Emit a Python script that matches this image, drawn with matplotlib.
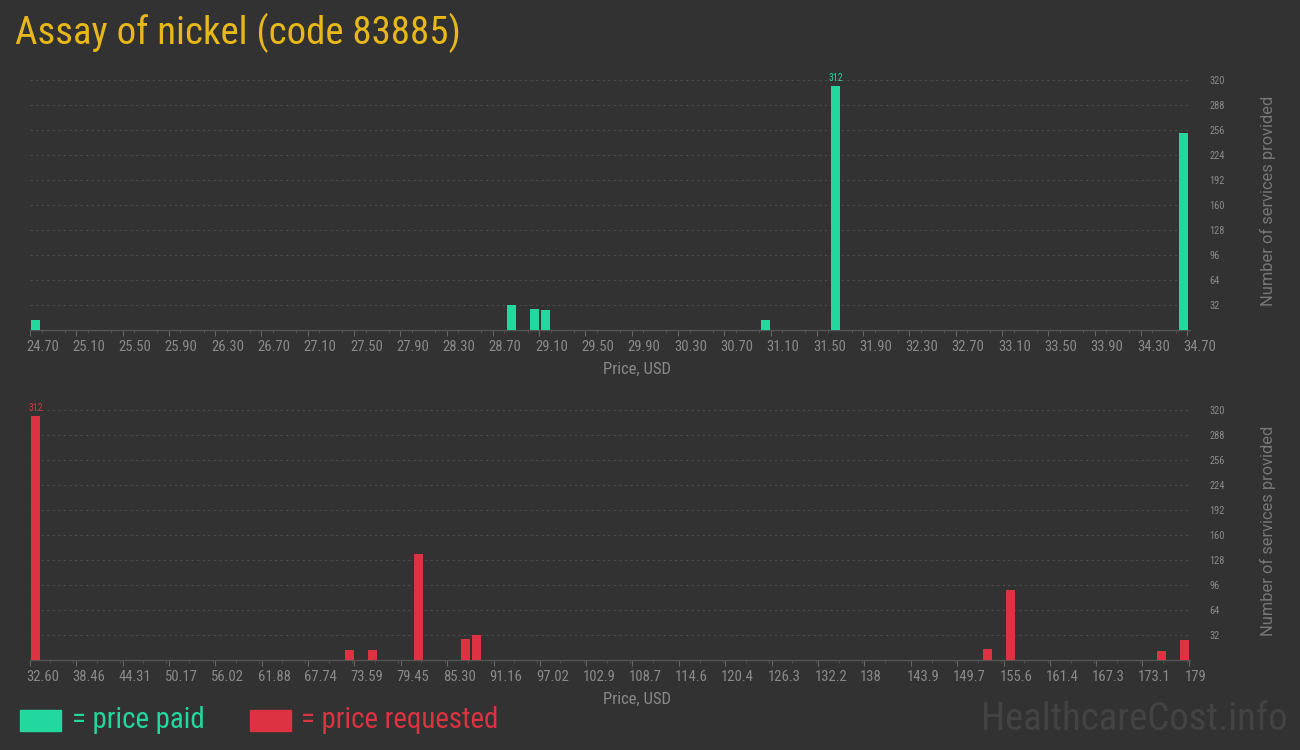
import matplotlib.pyplot as plt
from matplotlib import font_manager
from matplotlib.ticker import MultipleLocator
import matplotlib.transforms as mtransforms

# pick a condensed face if one is installed
names = {f.name for f in font_manager.fontManager.ttflist}
COND = 'Roboto Condensed' if 'Roboto Condensed' in names else 'Roboto'

# price paid (top panel)
paid_price = [24.75, 28.86, 29.06, 29.155, 31.06, 31.66, 34.67]
paid_count = [13, 32, 27, 26, 13, 312, 252]
paid_ticks = [24.70, 25.10, 25.50, 25.90, 26.30, 26.70, 27.10, 27.50, 27.90, 28.30,
              28.70, 29.10, 29.50, 29.90, 30.30, 30.70, 31.10, 31.50, 31.90, 32.30,
              32.70, 33.10, 33.50, 33.90, 34.30, 34.70]
paid_labels = ['%.2f' % t for t in paid_ticks]

# price requested (bottom panel)
req_price = [33.33, 72.94, 75.82, 81.7, 87.6, 89.04, 153.6, 156.5, 175.6, 178.5]
req_count = [312, 13, 13, 136, 27, 32, 14, 90, 12, 26]
req_ticks = [32.60, 38.46, 44.31, 50.17, 56.02, 61.88, 67.74, 73.59, 79.45, 85.30,
             91.16, 97.02, 102.9, 108.7, 114.6, 120.4, 126.3, 132.2, 138, 143.9,
             149.7, 155.6, 161.4, 167.3, 173.1, 179]
req_labels = ['32.60', '38.46', '44.31', '50.17', '56.02', '61.88', '67.74', '73.59',
              '79.45', '85.30', '91.16', '97.02', '102.9', '108.7', '114.6', '120.4',
              '126.3', '132.2', '138', '143.9', '149.7', '155.6', '161.4', '167.3',
              '173.1', '179']

y_ticks = [32, 64, 96, 128, 160, 192, 224, 256, 288, 320]

BG = '#323232'
GREEN = '#22d89f'
RED = '#dc3241'
GOLD = '#e8b71a'
GREY = '#8a8a8a'

fig = plt.figure(figsize=(13, 7.5), dpi=100)
fig.patch.set_facecolor(BG)

W, H = 1300.0, 750.0


def panel(rect, prices, counts, width, color, ticks, labels, xlim):
    l, t, r, b = rect
    ax = fig.add_axes([l / W, 1 - b / H, (r - l) / W, (b - t) / H])
    ax.set_facecolor(BG)
    ax.bar(prices, counts, width=width, color=color, zorder=3)
    ax.set_xlim(*xlim)
    ax.set_ylim(0, 330)

    for s in ['top', 'left', 'right']:
        ax.spines[s].set_visible(False)
    ax.spines['bottom'].set_color('#555555')
    ax.spines['bottom'].set_linewidth(1)

    ax.set_xticks(ticks)
    ax.set_xticklabels(labels)
    step = ticks[1] - ticks[0]
    ax.xaxis.set_minor_locator(MultipleLocator(step / 2))
    ax.tick_params(axis='x', which='major', length=4, color='#666666', pad=3,
                   labelsize=10.5, labelcolor=GREY)
    ax.tick_params(axis='x', which='minor', length=2, color='#555555')
    shift = mtransforms.ScaledTranslation(-4 / 100, 0, fig.dpi_scale_trans)
    for lab in ax.get_xticklabels():
        lab.set_horizontalalignment('left')
        lab.set_family(COND)
        lab.set_transform(lab.get_transform() + shift)

    ax.yaxis.tick_right()
    ax.yaxis.set_label_position('right')
    ax.set_yticks(y_ticks)
    ax.tick_params(axis='y', length=0, pad=14, labelsize=7.5, labelcolor=GREY)
    for lab in ax.get_yticklabels():
        lab.set_family(COND)
    ax.grid(axis='y', color='#4c4c4c', linestyle=(0, (2, 3)), linewidth=0.8, zorder=0)

    ax.set_xlabel('Price, USD', color=GREY, fontsize=12, family=COND)
    ax.xaxis.set_label_coords(0.523, -0.125)
    ax.set_ylabel('Number of services provided', color='#777777', fontsize=11.8,
                  family='Roboto', labelpad=25)

    i = counts.index(max(counts))
    ax.text(prices[i], max(counts) + 4, str(max(counts)), color=color, fontsize=7,
            family=COND, ha='center', va='bottom')
    return ax


panel((30, 72, 1190, 330), paid_price, paid_count, 0.078, GREEN,
      paid_ticks, paid_labels, (24.70, 34.725))
panel((30, 402, 1190, 660), req_price, req_count, 1.14, RED,
      req_ticks, req_labels, (32.60, 179.15))

fig.text(15 / W, 1 - 33 / H, 'Assay of nickel (code 83885)', color=GOLD,
         fontsize=28, family=COND, va='center', ha='left')

# legend squares
fig.patches.append(plt.Rectangle((20 / W, 1 - 731 / H), 41 / W, 21 / H,
                                 color=GREEN, transform=fig.transFigure))
fig.text(72 / W, 1 - 720 / H, '= price paid', color=GREEN, fontsize=20.8,
         family=COND, va='center', ha='left')
fig.patches.append(plt.Rectangle((250 / W, 1 - 731 / H), 41 / W, 21 / H,
                                 color=RED, transform=fig.transFigure))
fig.text(301 / W, 1 - 720 / H, '= price requested', color=RED, fontsize=20.8,
         family=COND, va='center', ha='left')

fig.text(1288 / W, 1 - 720 / H, 'HealthcareCost.info', color='#434343', fontsize=28,
         family=COND, va='center', ha='right')

fig.savefig('out.png', dpi=100, facecolor=BG)
